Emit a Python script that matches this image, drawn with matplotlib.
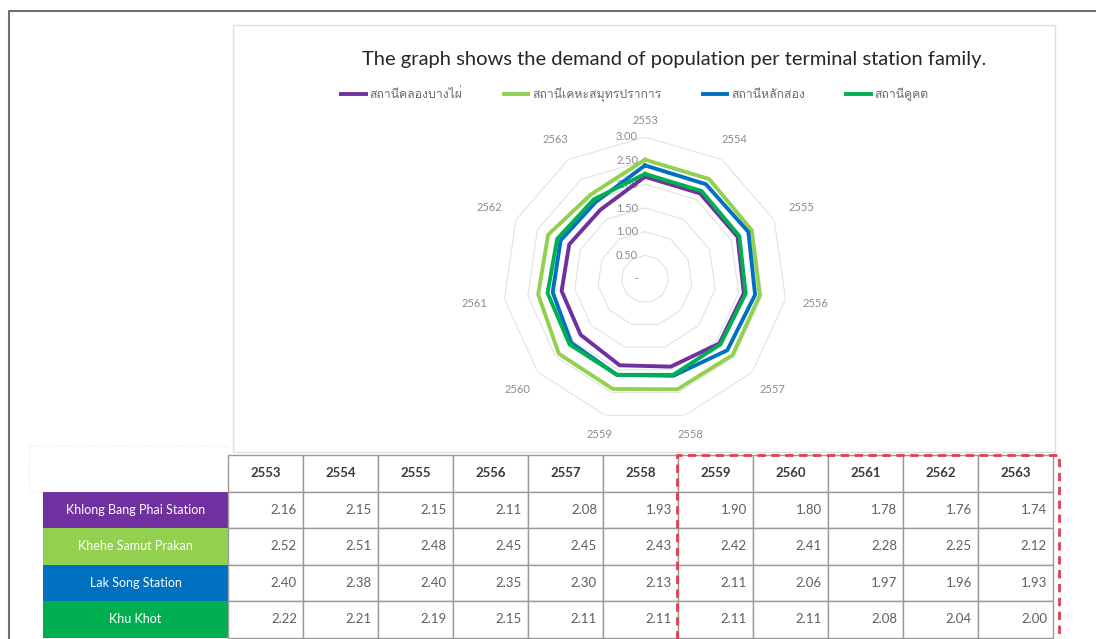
import numpy as np
import matplotlib
matplotlib.use("Agg")
import matplotlib.pyplot as plt
from matplotlib import font_manager
from matplotlib.ft2font import FT2Font
from matplotlib.patches import Rectangle

# data
years = ["2553", "2554", "2555", "2556", "2557", "2558",
         "2559", "2560", "2561", "2562", "2563"]
stations_en = ["Khlong Bang Phai Station", "Khehe Samut Prakan",
               "Lak Song Station", "Khu Khot"]
stations_th = ["สถานีคลองบางไผ่", "สถานีเคหะสมุทรปราการ",
               "สถานีหลักสอง", "สถานีคูคต"]
khlong_bang_phai = [2.16, 2.15, 2.15, 2.11, 2.08, 1.93, 1.90, 1.80, 1.78, 1.76, 1.74]
kheha_samut_prakan = [2.52, 2.51, 2.48, 2.45, 2.45, 2.43, 2.42, 2.41, 2.28, 2.25, 2.12]
lak_song = [2.40, 2.38, 2.40, 2.35, 2.30, 2.13, 2.11, 2.06, 1.97, 1.96, 1.93]
khu_khot = [2.22, 2.21, 2.19, 2.15, 2.11, 2.11, 2.11, 2.11, 2.08, 2.04, 2.00]
series = [khlong_bang_phai, kheha_samut_prakan, lak_song, khu_khot]
colors = ["#7030a0", "#92d050", "#0070c0", "#00b050"]
r_levels = [0, 0.5, 1.0, 1.5, 2.0, 2.5, 3.0]
r_labels = ["-", "0.50", "1.00", "1.50", "2.00", "2.50", "3.00"]
title = "The graph shows the demand of population per terminal station family."


def find_thai_font():
    for f in font_manager.fontManager.ttflist:
        try:
            if 0x0E2A in FT2Font(f.fname).get_charmap():
                return f.name
        except Exception:
            pass
    return None


thai = find_thai_font()
thai_family = [thai, "DejaVu Sans"] if thai else ["DejaVu Sans"]
latin = "Lato"

W, H = 1096, 639
fig = plt.figure(figsize=(W / 100, H / 100), dpi=100)

# pixel-space background axes for frames and the table
bg = fig.add_axes([0, 0, 1, 1], zorder=0)
bg.set_xlim(0, W)
bg.set_ylim(H, 0)
bg.axis("off")

bg.plot([9, 9, W], [H, 11, 11], color="#6e6e6e", lw=1.5)
bg.add_patch(Rectangle((233, 25), 822, 427, fill=False, ec="#dedede", lw=1))
bg.add_patch(Rectangle((29, 446), 199, 46, fill=False, ec="#e6e6e6", lw=0.8, ls=":"))

# table
x0, col_w = 228, 75
top, row_h = 455, 36.5
lab_x, lab_w = 43, 185
grid_c = "#9a9a9a"
for i, yr in enumerate(years):
    bg.add_patch(Rectangle((x0 + i * col_w, top), col_w, row_h, fc="white", ec=grid_c, lw=1))
    bg.text(x0 + i * col_w + col_w / 2, top + row_h / 2, yr, ha="center", va="center",
            fontsize=9.5, fontweight="bold", color="#3a3a3a", family=latin)
for j, (name, vals) in enumerate(zip(stations_en, series)):
    y = top + (j + 1) * row_h
    bg.add_patch(Rectangle((lab_x, y), lab_w, row_h, fc=colors[j], ec="none"))
    bg.text(lab_x + lab_w / 2, y + row_h / 2, name, ha="center", va="center",
            fontsize=9, color="white", family=latin)
    for i, v in enumerate(vals):
        bg.add_patch(Rectangle((x0 + i * col_w, y), col_w, row_h, fc="white", ec=grid_c, lw=1))
        bg.text(x0 + (i + 1) * col_w - 6, y + row_h / 2, f"{v:.2f}", ha="right", va="center",
                fontsize=9.5, color="#5f5f5f", family=latin)

# red dashed highlight around the last five years
bg.plot([677, 677, 1059, 1059], [H, 455, 455, H], color="#e0404f", lw=2,
        ls=(0, (3, 2)), zorder=5)

# radar chart
cx, cy, R = 645, 279, 142
ax = fig.add_axes([(cx - R) / W, 1 - (cy + R) / H, 2 * R / W, 2 * R / H],
                  projection="polar", zorder=2)
ax.patch.set_alpha(0)
ax.set_theta_zero_location("N")
ax.set_theta_direction(-1)
ax.set_ylim(0, 3)
ax.set_xticks([])
ax.set_yticks([])
ax.grid(False)
ax.spines["polar"].set_visible(False)

angles = np.linspace(0, 2 * np.pi, len(years), endpoint=False)
closed = np.append(angles, angles[0])
for r in r_levels[1:]:
    ax.plot(closed, [r] * len(closed), color="#e2e2e2", lw=0.8, zorder=1)
for r, lab in zip(r_levels, r_labels):
    ax.annotate(lab, xy=(0, r), xytext=(-5, 0), textcoords="offset points",
                ha="right", va="center", fontsize=8, color="#8c8c8c", family=latin)
for a, yr in zip(angles, years):
    ax.text(a, 3.35 + 0.3 * abs(np.sin(a)), yr, ha="center", va="center",
            fontsize=8, color="#8c8c8c", family=latin)

handles = []
for vals, c in zip(series, colors):
    h, = ax.plot(closed, vals + vals[:1], color=c, lw=2.8, zorder=3)
    handles.append(h)
ax.set_ylim(0, 3)

fig.text(674 / W, 1 - 60 / H, title, ha="center", va="center", fontsize=14.5,
         color="#262626", family=latin)
fig.legend(handles, stations_th, loc="center", bbox_to_anchor=(635 / W, 1 - 95 / H),
           ncol=4, frameon=False, handlelength=2.0, columnspacing=3.4, handletextpad=0.3,
           labelcolor="#6a6a6a", prop={"family": thai_family, "size": 8.8})

fig.savefig("out.png", dpi=100)
